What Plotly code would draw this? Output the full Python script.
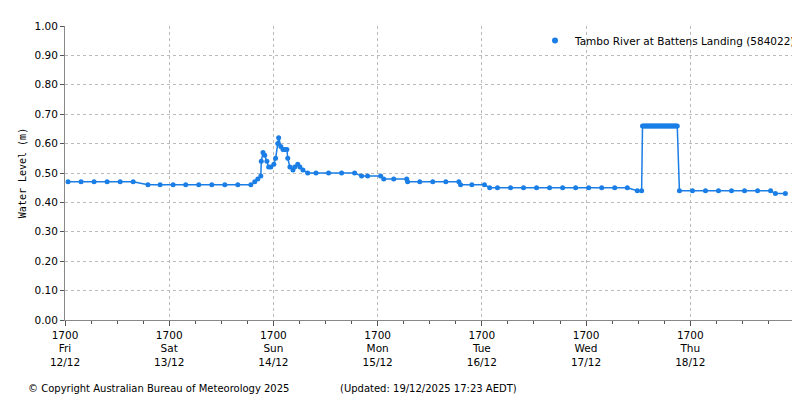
import plotly.graph_objects as go
import pandas as pd

start = pd.Timestamp("2025-12-12 17:00")
hours = [0.7,3.7,6.7,9.7,12.7,15.7,19.1,21.9,24.9,27.8,30.8,33.8,36.8,39.8,42.8,43.7,44.4,45.1,45.2,45.6,46.0,46.5,46.9,47.4,48.1,48.5,49.0,49.2,49.7,50.2,50.6,51.1,51.3,51.8,52.5,52.9,53.6,54.1,54.8,55.9,57.8,60.7,63.7,66.7,68.3,69.7,72.7,73.4,75.7,78.7,78.9,81.7,84.7,87.7,90.7,91.1,93.7,96.6,97.8,99.6,102.6,105.6,108.6,111.6,114.6,117.6,120.6,123.6,126.6,129.5,131.8,132.8,
         133.0,133.25,133.5,133.75,134.0,134.25,134.5,134.75,135.0,135.25,135.5,135.75,136.0,136.25,136.5,136.75,137.0,137.25,137.5,137.75,138.0,138.25,138.5,138.75,139.0,139.25,139.5,139.75,140.0,140.25,140.5,140.75,141.0,
         141.5,144.5,147.5,150.5,153.5,156.5,159.5,162.5,163.6,165.9]
levels = [0.47,0.47,0.47,0.47,0.47,0.47,0.46,0.46,0.46,0.46,0.46,0.46,0.46,0.46,0.46,0.47,0.48,0.49,0.54,0.57,0.56,0.54,0.52,0.52,0.53,0.55,0.60,0.62,0.59,0.58,0.58,0.58,0.55,0.52,0.51,0.52,0.53,0.52,0.51,0.50,0.50,0.50,0.50,0.50,0.49,0.49,0.49,0.48,0.48,0.48,0.47,0.47,0.47,0.47,0.47,0.46,0.46,0.46,0.45,0.45,0.45,0.45,0.45,0.45,0.45,0.45,0.45,0.45,0.45,0.45,0.44,0.44,
          0.66,0.66,0.66,0.66,0.66,0.66,0.66,0.66,0.66,0.66,0.66,0.66,0.66,0.66,0.66,0.66,0.66,0.66,0.66,0.66,0.66,0.66,0.66,0.66,0.66,0.66,0.66,0.66,0.66,0.66,0.66,0.66,0.66,
          0.44,0.44,0.44,0.44,0.44,0.44,0.44,0.44,0.43,0.43]
day_labels = ["Fri<br>12/12","Sat<br>13/12","Sun<br>14/12","Mon<br>15/12","Tue<br>16/12","Wed<br>17/12","Thu<br>18/12"]

times = [start + pd.Timedelta(hours=h) for h in hours]
tickvals = [start + pd.Timedelta(days=i) for i in range(len(day_labels))]
ticktext = ["1700<br>" + d for d in day_labels]
color = "#1a7ee6"

fig = go.Figure()
fig.add_trace(go.Scatter(x=times, y=levels, mode="lines+markers", showlegend=False,
    line=dict(color=color, width=1.5), marker=dict(color=color, size=5)))
fig.add_trace(go.Scatter(x=[None], y=[None], mode="markers", name="Tambo River at Battens Landing (584022)",
    marker=dict(color=color, size=6)))

font = dict(family="DejaVu Sans", size=10.5, color="black")
fig.update_layout(
    width=800, height=400, margin=dict(l=57, r=7, t=18, b=88),
    plot_bgcolor="white", paper_bgcolor="white", font=font,
    showlegend=True,
    legend=dict(x=1, y=1, xanchor="right", yanchor="top", bgcolor="rgba(255,255,255,0)", font=font,
                itemwidth=30, tracegroupgap=0),
    xaxis=dict(range=[start, start + pd.Timedelta(hours=169.5)], tickvals=tickvals, ticktext=ticktext,
               automargin=False,
               showgrid=True, gridcolor="#bbbbbb", griddash="dot", showline=True, linecolor="#888888",
               ticks="outside", ticklen=5, tickcolor="#555555",
               minor=dict(dtick=6*3600*1000, tick0=start, ticks="outside", ticklen=3, tickcolor="#555555", showgrid=False),
               zeroline=False),
    yaxis=dict(range=[0, 1.0], dtick=0.1, tickformat=".2f", showgrid=True, gridcolor="#bbbbbb", griddash="dot",
               automargin=False,
               showline=True, linecolor="#888888", ticks="outside", ticklen=4, tickcolor="#555555",
               title=dict(text="Water Level (m)", font=dict(family="DejaVu Sans Mono", size=10), standoff=6),
               zeroline=False),
)
fig.add_annotation(text="© Copyright Australian Bureau of Meteorology 2025", xref="paper", yref="paper",
                   x=(18-57)/736, y=-68/294, xanchor="left", yanchor="middle", showarrow=False, font=dict(family="DejaVu Sans", size=10))
fig.add_annotation(text="(Updated: 19/12/2025 17:23 AEDT)", xref="paper", yref="paper",
                   x=(330-57)/736, y=-68/294, xanchor="left", yanchor="middle", showarrow=False, font=dict(family="DejaVu Sans", size=10))
fig.write_html("out.html")
